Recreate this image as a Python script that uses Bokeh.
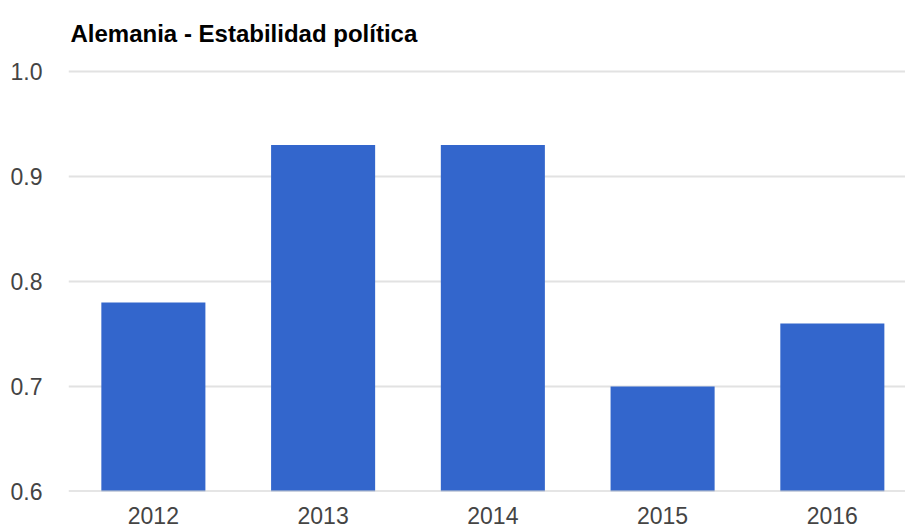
from bokeh.plotting import figure
from bokeh.models import Range1d, ColumnDataSource, Span, FixedTicker, NumeralTickFormatter, Label
from bokeh.embed import file_html
from bokeh.resources import INLINE

# Data
years = ["2012", "2013", "2014", "2015", "2016"]
values = [0.78, 0.93, 0.93, 0.70, 0.76]
y_ticks = [0.6, 0.7, 0.8, 0.9, 1.0]
y_start, y_end = 0.6, 1.0676   # headroom above 1.0 holds the title inside the frame
title_text = "Alemania - Estabilidad política"

xs = list(range(len(years)))
x_start, x_end = -0.5, 4.431
src = ColumnDataSource(dict(x=xs, year=years, value=values))

p = figure(width=905, height=527, output_backend="svg", toolbar_location=None,
           x_range=Range1d(x_start, x_end), y_range=Range1d(y_start, y_end),
           min_border_left=68, min_border_top=0, min_border_bottom=36, min_border_right=0)
p.title.text = ""
p.outline_line_color = None
p.background_fill_color = "white"
p.border_fill_color = "white"

p.vbar(x="x", top="value", bottom=y_start, width=0.613, source=src,
       fill_color="#3366cc", line_color=None)

# x axis (years)
p.xgrid.visible = False
p.xaxis.ticker = FixedTicker(ticks=xs)
p.xaxis.major_label_overrides = {x: y for x, y in zip(xs, years)}
p.xaxis.axis_line_color = None
p.xaxis.major_tick_line_color = None
p.xaxis.minor_tick_line_color = None
p.xaxis.major_label_standoff = 9
p.xaxis.major_label_text_font = "Liberation Sans"
p.xaxis.major_label_text_font_size = "23px"
p.xaxis.major_label_text_color = "#444444"

# y axis
p.yaxis.ticker = FixedTicker(ticks=y_ticks)
p.yaxis.axis_line_color = None
p.yaxis.major_tick_line_color = None
p.yaxis.minor_tick_line_color = None
p.yaxis.major_label_standoff = 20
p.yaxis.major_label_text_font = "Liberation Sans"
p.yaxis.major_label_text_font_size = "23px"
p.yaxis.major_label_text_color = "#444444"
p.yaxis.formatter = NumeralTickFormatter(format="0.0")
p.ygrid.grid_line_color = "#e2e2e2"
p.ygrid.grid_line_width = 2

baseline = Span(location=y_ticks[0], dimension="width", line_color="#cccccc", line_width=2)
p.add_layout(baseline)

# Chart title, anchored to the top gridline
title = Label(x=x_start, y=y_ticks[-1], x_offset=2, y_offset=38, text=title_text,
              text_align="left", text_baseline="alphabetic",
              text_font="Liberation Sans", text_font_size="24px",
              text_font_style="bold", text_color="#000000")
p.add_layout(title)

open("out.html", "w").write(file_html(p, INLINE))
